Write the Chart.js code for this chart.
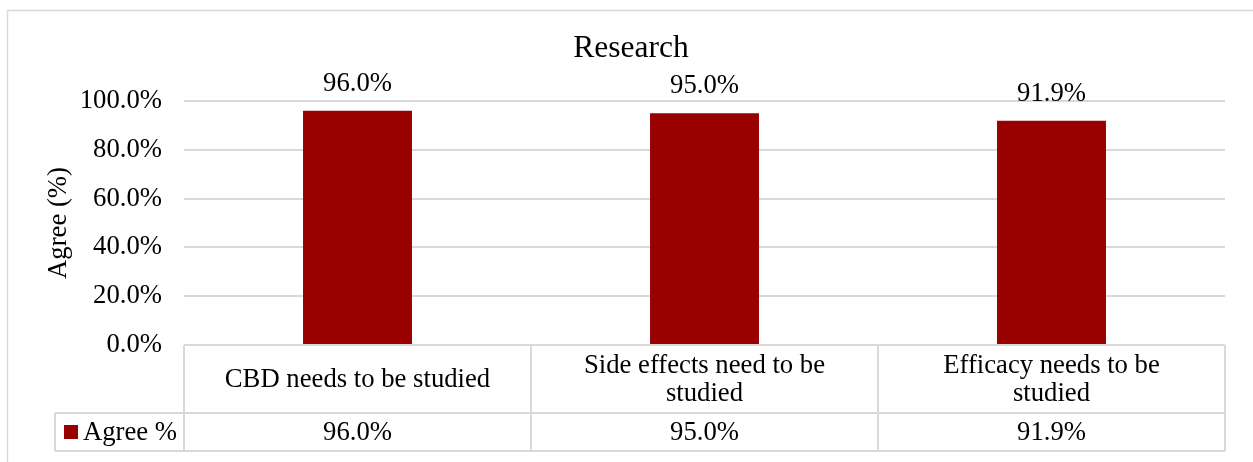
<!DOCTYPE html>
<html>
<head>
<meta charset="utf-8">
<title>Research</title>
<script src="https://cdn.jsdelivr.net/npm/chart.js@4"></script>
<style>
  html, body { margin: 0; padding: 0; background: #ffffff; }
  canvas { display: block; }
</style>
</head>
<body>
<canvas id="chart" width="1253" height="462"></canvas>
<script>
// Survey results: share of respondents who agree with each statement
const chartTitle = "Research";
const axisTitle = "Agree (%)";
const seriesName = "Agree %";
const categories = [
  ["CBD needs to be studied"],
  ["Side effects need to be", "studied"],
  ["Efficacy needs to be", "studied"]
];
const agreeValues = [96.0, 95.0, 91.9];
const yTicks = [0, 20, 40, 60, 80, 100];

const FONT = "'Liberation Serif', 'Times New Roman', serif";
const TEXT_SIZE = 26.7;
const BAR_COLOR = "#990000";
const LINE_COLOR = "#d9d9d9";
const fmt = v => v.toFixed(1) + "%";

// Outer frame and chart title
const framePlugin = {
  id: "frame",
  beforeDraw(chart) {
    const ctx = chart.ctx;
    ctx.save();
    ctx.fillStyle = "#ffffff";
    ctx.fillRect(0, 0, chart.width, chart.height);
    ctx.strokeStyle = LINE_COLOR;
    ctx.lineWidth = 1.5;
    ctx.strokeRect(7.5, 10.5, chart.width + 20, chart.height + 20);
    ctx.fillStyle = "#000";
    ctx.font = "31.5px " + FONT;
    ctx.textAlign = "center";
    ctx.textBaseline = "middle";
    ctx.fillText(chartTitle, 631, 49);
    ctx.restore();
  }
};

// Value labels above each bar
const valueLabels = {
  id: "valueLabels",
  afterDatasetsDraw(chart) {
    const ctx = chart.ctx;
    const meta = chart.getDatasetMeta(0);
    ctx.save();
    ctx.fillStyle = "#000";
    ctx.font = TEXT_SIZE + "px " + FONT;
    ctx.textAlign = "center";
    ctx.textBaseline = "middle";
    meta.data.forEach((bar, i) => {
      ctx.fillText(fmt(agreeValues[i]), bar.x, bar.y - 27);
    });
    ctx.restore();
  }
};

// Data table under the plot: category row and value row with legend key
const dataTable = {
  id: "dataTable",
  afterDraw(chart) {
    const ctx = chart.ctx;
    const x = chart.scales.x;
    const area = chart.chartArea;
    const top = area.bottom;
    const mid = top + 68;
    const bottom = mid + 38;
    const legendLeft = 55;
    const n = categories.length;
    const step = (area.right - area.left) / n;
    const edges = [];
    for (let i = 0; i <= n; i++) edges.push(area.left + step * i);

    ctx.save();
    ctx.strokeStyle = LINE_COLOR;
    ctx.lineWidth = 2;
    ctx.beginPath();
    ctx.moveTo(area.left, top); ctx.lineTo(area.right, top);
    ctx.moveTo(legendLeft, mid); ctx.lineTo(area.right, mid);
    ctx.moveTo(legendLeft, bottom); ctx.lineTo(area.right, bottom);
    edges.forEach(e => { ctx.moveTo(e, top); ctx.lineTo(e, bottom); });
    ctx.moveTo(legendLeft, mid); ctx.lineTo(legendLeft, bottom);
    ctx.stroke();

    ctx.fillStyle = "#000";
    ctx.font = TEXT_SIZE + "px " + FONT;
    ctx.textAlign = "center";
    ctx.textBaseline = "middle";
    const lineH = 28;
    categories.forEach((lines, i) => {
      const cx = x.getPixelForValue(i);
      const cy = (top + mid) / 2 + 1;
      const y0 = cy - (lines.length - 1) * lineH / 2;
      lines.forEach((t, j) => ctx.fillText(t, cx, y0 + j * lineH));
      ctx.fillText(fmt(agreeValues[i]), cx, (mid + bottom) / 2 + 1);
    });

    // legend key
    ctx.fillStyle = BAR_COLOR;
    ctx.fillRect(64, 425, 14, 14);
    ctx.fillStyle = "#000";
    ctx.textAlign = "left";
    ctx.fillText(seriesName, 83, (mid + bottom) / 2 + 1);
    ctx.restore();
  }
};

new Chart(document.getElementById("chart"), {
  type: "bar",
  data: {
    labels: categories.map(l => l.join(" ")),
    datasets: [{
      label: seriesName,
      data: agreeValues,
      backgroundColor: BAR_COLOR,
      borderWidth: 0,
      categoryPercentage: 1.0,
      barPercentage: 0.314
    }]
  },
  options: {
    responsive: false,
    animation: false,
    devicePixelRatio: 1,
    layout: { padding: { left: 43, right: 28, top: 101, bottom: 117 } },
    plugins: {
      legend: { display: false },
      title: { display: false },
      tooltip: { enabled: false }
    },
    scales: {
      x: {
        display: false,
        grid: { display: false }
      },
      y: {
        min: 0,
        max: 100,
        afterBuildTicks(scale) {
          scale.ticks = yTicks.map(v => ({ value: v }));
        },
        afterFit(scale) { scale.width = 141; },
        border: { display: false },
        grid: { color: LINE_COLOR, lineWidth: 2, drawTicks: false },
        ticks: {
          padding: 22,
          color: "#000",
          font: { family: FONT, size: TEXT_SIZE },
          callback: v => fmt(v)
        },
        title: {
          display: true,
          text: axisTitle,
          color: "#000",
          padding: 0,
          font: { family: FONT, size: TEXT_SIZE }
        }
      }
    }
  },
  plugins: [framePlugin, valueLabels, dataTable]
});
</script>
</body>
</html>
